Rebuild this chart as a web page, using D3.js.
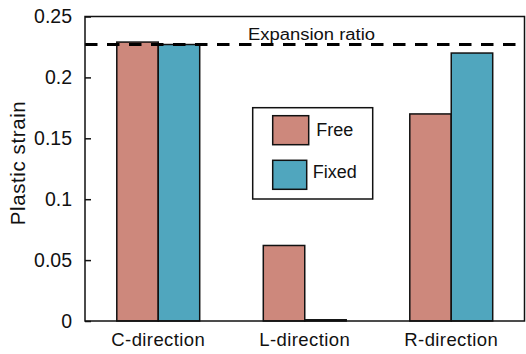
<!DOCTYPE html>
<html><head><meta charset="utf-8">
<script src="https://cdn.jsdelivr.net/npm/d3@7"></script>
<style>body{margin:0;background:#fff}svg{display:block}text{font-family:"Liberation Sans",Arial,sans-serif;fill:#111}</style>
</head><body>
<svg id="c" width="526" height="354"></svg>
<script>
const categories = ["C-direction", "L-direction", "R-direction"];
const seriesNames = ["Free", "Fixed"];
const freeValues = [0.229, 0.062, 0.170];
const fixedValues = [0.227, 0.001, 0.220];
const yTicks = [0, 0.05, 0.1, 0.15, 0.2, 0.25];
const yTickLabels = ["0", "0.05", "0.1", "0.15", "0.2", "0.25"];
const expansionRatio = 0.227;
const colors = ["#CD887C", "#50A6BE"];

const svg = d3.select("#c");
const L = 85, R = 524.5, T = 16.5, B = 321;
const x = d3.scaleBand().domain(categories).range([L, R]).paddingInner(0.434).paddingOuter(0.217);
const xs = d3.scaleBand().domain(seriesNames).range([0, x.bandwidth()]);
const y = d3.scaleLinear().domain([0, 0.25]).range([B, T]);
const color = d3.scaleOrdinal().domain(seriesNames).range(colors);

const data = categories.map((c, i) => ({cat: c, vals: [
  {s: "Free", v: freeValues[i]}, {s: "Fixed", v: fixedValues[i]}]}));

// bars
const g = svg.append("g");
g.selectAll("g.grp").data(data).join("g").attr("class","grp")
  .attr("transform", d => `translate(${x(d.cat)},0)`)
  .selectAll("rect").data(d => d.vals).join("rect")
  .attr("x", d => xs(d.s)).attr("width", xs.bandwidth())
  .attr("y", d => y(d.v)).attr("height", d => y(0) - y(d.v))
  .attr("fill", d => color(d.s)).attr("stroke", "#111").attr("stroke-width", 1.5);

// dashed expansion line
svg.append("line").attr("x1", L).attr("x2", R).attr("y1", y(expansionRatio)).attr("y2", y(expansionRatio))
  .attr("stroke", "#000").attr("stroke-width", 3).attr("stroke-dasharray", "12.5,9.5");
svg.append("text").attr("x", 248).attr("y", 40).attr("font-size", 16)
  .attr("textLength", 127).attr("lengthAdjust", "spacingAndGlyphs").text("Expansion ratio");

// frame
svg.append("rect").attr("x", L).attr("y", T).attr("width", R - L).attr("height", B - T)
  .attr("fill", "none").attr("stroke", "#111").attr("stroke-width", 1.5);

// y axis
const yAxis = d3.axisLeft(y).tickValues(yTicks).tickFormat((d, i) => yTickLabels[i]).tickSizeInner(-6).tickSizeOuter(0).tickPadding(13);
const ya = svg.append("g").attr("transform", `translate(${L},0)`).call(yAxis);
ya.select(".domain").remove();
ya.selectAll("line").attr("stroke", "#111").attr("stroke-width", 1.5);
ya.selectAll("text").attr("font-size", 19.5).attr("fill", "#111").attr("font-family", '"Liberation Sans",Arial,sans-serif');

// x axis labels
const xAxis = d3.axisBottom(x).tickSize(0).tickPadding(12);
const xa = svg.append("g").attr("transform", `translate(0,${B})`).call(xAxis);
xa.select(".domain").remove();
xa.selectAll("text").attr("font-size", 18.5).attr("letter-spacing", 0.4).attr("fill", "#111").attr("font-family", '"Liberation Sans",Arial,sans-serif');

// y label
svg.append("text").attr("transform", "translate(25,163) rotate(-90)").attr("text-anchor", "middle")
  .attr("font-size", 20.5).attr("letter-spacing", 0.6).text("Plastic strain");

// legend
const lg = svg.append("g");
lg.append("rect").attr("x", 252.7).attr("y", 107.7).attr("width", 120).attr("height", 91.3)
  .attr("fill", "#fff").attr("stroke", "#111").attr("stroke-width", 1.5);
const items = lg.selectAll("g.it").data(seriesNames).join("g").attr("class","it")
  .attr("transform", (d, i) => `translate(272.7,${115.7 + i * 44.6})`);
items.append("rect").attr("width", (d,i) => i ? 34 : 36).attr("height", 29)
  .attr("fill", d => color(d)).attr("stroke", "#111").attr("stroke-width", 1.5);
items.append("text").attr("x", (d,i) => i ? 40 : 43.5).attr("y", (d,i)=> i ? 18 : 20)
  .attr("font-size", 18).text(d => d);
</script>
</body></html>
